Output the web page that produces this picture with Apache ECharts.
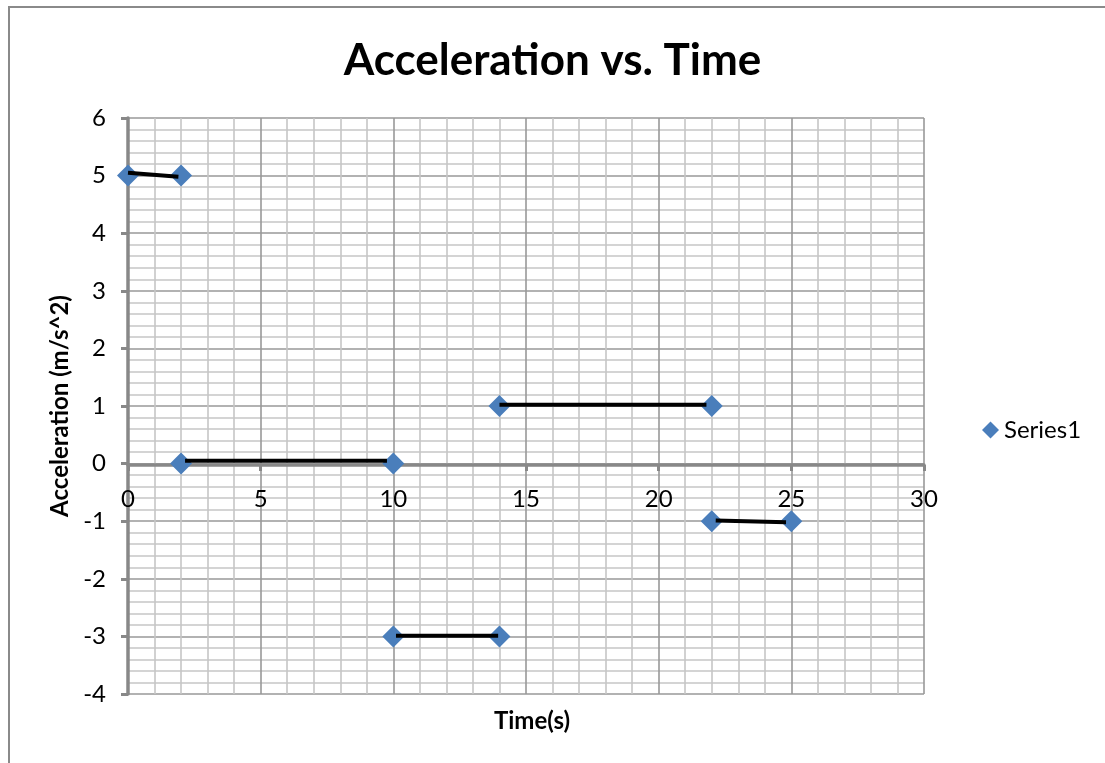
<!DOCTYPE html>
<html>
<head>
<meta charset="utf-8">
<script src="https://cdn.jsdelivr.net/npm/echarts@6/dist/echarts.min.js"></script>
<style>
html,body{margin:0;padding:0;background:#fff;}
#chart{width:1105px;height:763px;}
</style>
</head>
<body>
<div id="chart"></div>
<script>
// Data
var timeValues = [0, 2, 2, 10, 14, 22, 10, 14, 22, 25];
var accelValues = [5, 5, 0, 0, 1, 1, -3, -3, -1, -1];
// hand-drawn black segments: [x1, y1, x2, y2]
var segX1 = [0, 2.15, 14, 10.1, 22.15];
var segY1 = [5.05, 0.05, 1.02, -2.99, -0.99];
var segX2 = [1.9, 9.76, 21.8, 13.95, 24.8];
var segY2 = [4.98, 0.05, 1.02, -2.99, -1.02];
var xTicks = [0, 5, 10, 15, 20, 25, 30];
var yTicks = [-4, -3, -2, -1, 0, 1, 2, 3, 4, 5, 6];

var FONT = 'Lato, "Open Sans", sans-serif';
var chart = echarts.init(document.getElementById('chart'), null, {renderer: 'canvas'});

var points = timeValues.map(function (t, i) { return [t, accelValues[i]]; });
var segSeries = segX1.map(function (x, i) {
  return {
    type: 'line',
    data: [[x, segY1[i]], [segX2[i], segY2[i]]],
    symbol: 'none',
    lineStyle: {color: '#000', width: 4},
    z: 5,
    silent: true
  };
});

chart.setOption({
  animation: false,
  title: [
    {text: 'Acceleration vs. Time', left: 'center', top: 34, textStyle: {fontFamily: FONT, fontSize: 44, fontWeight: 'bold', color: '#000'}},
    {text: 'Time(s)', left: 527, top: 704, textAlign: 'center', textStyle: {fontFamily: FONT, fontSize: 24, fontWeight: 'bold', color: '#000'}}
  ],
  graphic: [{
    type: 'rect', shape: {x: 9, y: 7, width: 1200, height: 900},
    style: {fill: 'none', stroke: '#8a8a8a', lineWidth: 2}, z: -10, silent: true
  }],
  legend: {
    data: [{name: 'Series1', icon: 'diamond'}],
    left: 977, top: 413, itemWidth: 17, itemHeight: 17, itemGap: 5,
    textStyle: {fontFamily: FONT, fontSize: 24, color: '#000'}
  },
  grid: {left: 128, top: 118, right: 181, bottom: 69, containLabel: false},
  xAxis: {
    type: 'value', min: 0, max: 30, interval: 5,
    position: 'bottom', offset: -229,
    axisLine: {onZero: false, lineStyle: {color: '#888', width: 3.5}},
    axisTick: {show: true, length: 6, lineStyle: {color: '#888', width: 3}},
    axisLabel: {fontFamily: FONT, fontSize: 24, color: '#000', margin: 22,
      formatter: function (v) { return xTicks.indexOf(v) >= 0 ? String(v) : ''; }},
    splitLine: {show: true, lineStyle: {color: '#999', width: 1.6}},
    minorTick: {show: false, splitNumber: 5},
    minorSplitLine: {show: true, lineStyle: {color: '#c6c6c6', width: 1.6}}
  },
  yAxis: {
    type: 'value', min: -4, max: 6, interval: 1,
    name: 'Acceleration (m/s^2)', nameLocation: 'middle', nameGap: 52,
    nameTextStyle: {fontFamily: FONT, fontSize: 24, fontWeight: 'bold', color: '#000'},
    axisLine: {show: true, onZero: false, lineStyle: {color: '#888', width: 3.5}},
    axisTick: {show: true, length: 7, lineStyle: {color: '#888', width: 3}},
    axisLabel: {fontFamily: FONT, fontSize: 24, color: '#000', margin: 22,
      formatter: function (v) { return yTicks.indexOf(v) >= 0 ? String(v) : ''; }},
    splitLine: {show: true, lineStyle: {color: '#999', width: 1.6}},
    minorTick: {show: false, splitNumber: 5},
    minorSplitLine: {show: true, lineStyle: {color: '#c6c6c6', width: 1.6}}
  },
  series: [{
    name: 'Series1', type: 'scatter', data: points,
    symbol: 'diamond', symbolSize: [22, 22],
    itemStyle: {color: '#4a7ebb', opacity: 1}, z: 3
  }].concat(segSeries)
});
</script>
</body>
</html>
